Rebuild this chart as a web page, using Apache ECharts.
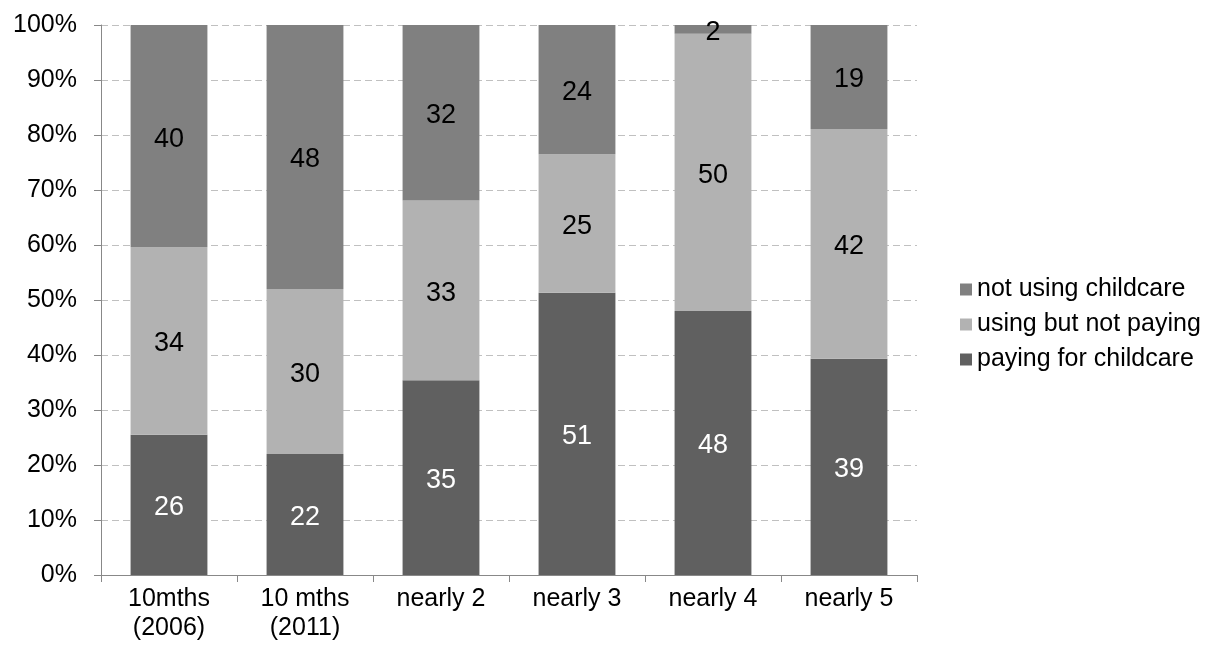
<!DOCTYPE html>
<html><head><meta charset="utf-8">
<script src="https://cdn.jsdelivr.net/npm/echarts@6/dist/echarts.min.js"></script>
<style>html,body{margin:0;padding:0;background:#fff}#c{width:1215px;height:648px}</style>
</head><body><div id="c"></div>
<script>
const categories = ['10mths\n(2006)', '10 mths\n(2011)', 'nearly 2', 'nearly 3', 'nearly 4', 'nearly 5'];
const paying = [25.5, 22.0, 35.4, 51.3, 48.0, 39.3];
const usingNotPaying = [34.1, 30.0, 32.7, 25.2, 50.4, 41.8];
const notUsing = [40.4, 48.0, 31.9, 23.5, 1.6, 18.9];
const yTicks = [0, 10, 20, 30, 40, 50, 60, 70, 80, 90, 100];

const font = 'Liberation Sans, Arial, sans-serif';
const chart = echarts.init(document.getElementById('c'));
function mk(name, data, color, labelColor) {
  return {
    name, type: 'bar', stack: 'a', data, barWidth: '56.5%',
    itemStyle: { color },
    label: { show: true, position: 'inside', color: labelColor, fontSize: 27, fontFamily: font,
      offset: [0, 3], formatter: p => Math.round(p.value) },
    emphasis: { disabled: true }
  };
}
chart.setOption({
  animation: false,
  grid: { left: 101, right: 298, top: 25, bottom: 73, containLabel: false },
  legend: {
    orient: 'vertical', left: 955, top: 272, itemWidth: 12, itemHeight: 12, itemGap: 10,
    icon: 'rect',
    textStyle: { fontSize: 25, fontFamily: font, color: '#000', padding: [0, 0, 0, 0] },
    data: ['not using childcare', 'using but not paying', 'paying for childcare']
  },
  xAxis: {
    type: 'category', data: categories,
    axisLine: { lineStyle: { color: '#888', width: 1 } },
    axisTick: { show: true, length: 7, lineStyle: { color: '#888' } },
    axisLabel: { fontSize: 25, fontFamily: font, color: '#000', margin: 10, lineHeight: 29 }
  },
  yAxis: {
    type: 'value', min: 0, max: 100, interval: 10,
    axisLine: { show: true, lineStyle: { color: '#888' } },
    axisTick: { show: true, length: 7, inside: false, lineStyle: { color: '#888' } },
    splitLine: { lineStyle: { color: '#c0c0c0', type: [7, 4], width: 1 } },
    axisLabel: { fontSize: 25, fontFamily: font, color: '#000', margin: 24,
      formatter: v => yTicks.includes(v) ? v + '%' : '' }
  },
  series: [
    mk('paying for childcare', paying, '#606060', '#fff'),
    mk('using but not paying', usingNotPaying, '#b2b2b2', '#000'),
    mk('not using childcare', notUsing, '#808080', '#000')
  ]
});
</script></body></html>
